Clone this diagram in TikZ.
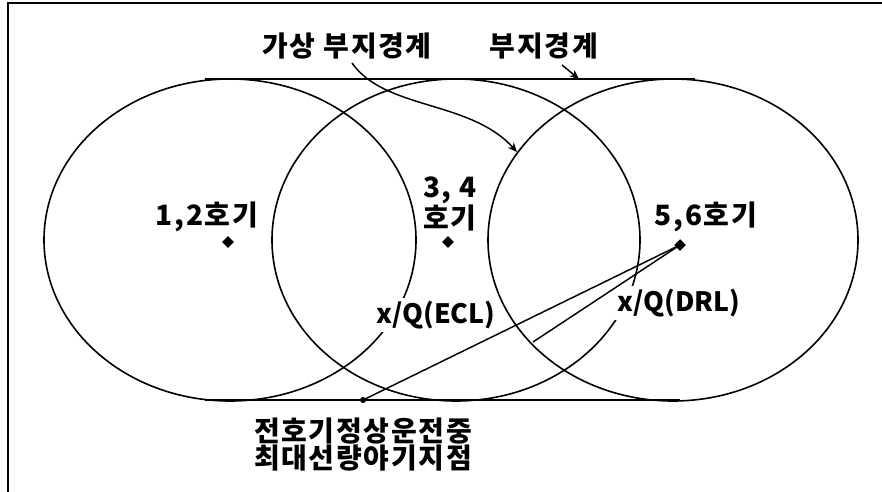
\documentclass[tikz,border=0pt]{standalone}
\usepackage{fontspec}
\newfontfamily\krfont{Noto Sans CJK KR}[LetterSpace=6]
\newfontfamily\lafont{Noto Sans CJK KR}
\usetikzlibrary{shapes.geometric, arrows.meta, positioning}

\tikzset{
    unitdot/.style={diamond, fill, inner sep=2.2pt},
    lbl/.style={inner sep=1pt},
    cutlbl/.style={fill=white, inner sep=2pt, font=\lafont\bfseries\fontsize{20}{23}\selectfont},
}

\begin{document}
\begin{tikzpicture}[x=0.75pt, y=-0.75pt, font=\krfont\bfseries\fontsize{21}{20}\selectfont]
        \useasboundingbox (0,0) rectangle (882,492);

        % frame
        \draw[line width=1.6pt] (8,492) -- (8,3) -- (882,3);

        % boundaries of the three sites
        \begin{scope}[line width=1.2pt]
            \draw (230,240) ellipse [x radius=186, y radius=161];
            \draw (456,240) ellipse [x radius=184, y radius=161];
            \draw (673,240) ellipse [x radius=185, y radius=161];
            \draw[line width=1.8pt] (205,79) -- (695,79);
            \draw[line width=1.8pt] (205,400) -- (680,400);
        \end{scope}

        % units
        \node[unitdot] (u12) at (228,242) {};
        \node[unitdot] (u34) at (448,242) {};
        \node[unitdot] (u56) at (680,245) {};
        \node[lbl] (l12) at (207,217) {1,2호기};
        \node[lbl, align=center] (l34) at (450,204) {3, 4\\호기};
        \node[lbl] (l56) at (706,217) {5,6호기};

        \node[cutlbl] (ecl) at (436,315) {x/Q(ECL)};
        \node[cutlbl] (drl) at (679,303) {x/Q(DRL)};

        % top labels and arrows
        \node[lbl] (virt) at (347,46) {가상 부지경계};
        \node[lbl] (site) at (544,46) {부지경계};
        \coordinate (virtend) at (517,152);
        \coordinate (siteend) at (579,79);
        \draw[line width=1.1pt, -{Stealth[length=7pt, width=6pt]}] (352,63) .. controls (385,110) and (470,100) .. (virtend);
        \draw[line width=1.1pt, -{Stealth[length=7pt, width=6pt]}] (562,65) -- (siteend);

        % distances from 5,6
        \node[circle, fill, inner sep=1.6pt] (maxpt) at (363,400) {};
        \coordinate (drlend) at (533,342);
        \draw[line width=1.1pt] (u56.center) -- (maxpt.center);
        \draw[line width=1.1pt] (u56.center) -- (drlend);

        \node[lbl, align=center, below=10pt of maxpt] (maxlbl) {전호기정상운전중\\최대선량야기지점};

    \end{tikzpicture}
\end{document}
